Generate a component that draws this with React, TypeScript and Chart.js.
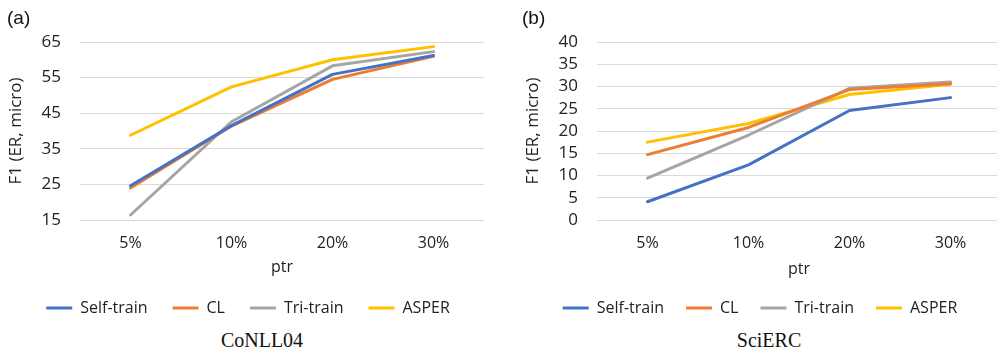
import React, { useEffect, useRef } from "react";
import { Chart, registerables } from "chart.js";

Chart.register(...registerables);

const categories = ["5%", "10%", "20%", "30%"];
const seriesNames = ["Self-train", "CL", "Tri-train", "ASPER"];
const seriesColors = ["#4472C4", "#ED7D31", "#A5A5A5", "#FFC000"];

// (a) CoNLL04
const conllSelfTrain = [24.6, 41.5, 55.9, 61.2];
const conllCL = [24.0, 41.4, 54.5, 61.0];
const conllTriTrain = [16.4, 42.6, 58.3, 62.3];
const conllASPER = [38.8, 52.4, 60.0, 63.7];

// (b) SciERC
const scierSelfTrain = [4.1, 12.4, 24.6, 27.5];
const scierCL = [14.7, 20.8, 29.3, 30.6];
const scierTriTrain = [9.4, 19.1, 29.6, 31.0];
const scierASPER = [17.5, 21.7, 28.2, 30.5];

const FONT = "'Open Sans', sans-serif";
const H = 326;

type PanelProps = {
  series: number[][];
  yMin: number;
  yMax: number;
  yStep: number;
  padLeft: number;
  yAxisWidth: number;
  yTitlePad: number;
  rightPad: number;
  width: number;
  legendPad: number;
};

function Panel({ series, yMin, yMax, yStep, padLeft, yAxisWidth, yTitlePad, rightPad, width, legendPad }: PanelProps) {
  const ref = useRef<HTMLCanvasElement | null>(null);
  useEffect(() => {
    if (!ref.current) return;
    const legendTop = H - (16 + legendPad + 10);
    const xAxisHeight = legendTop - 220;
    const ptrPad = Math.max(0, legendTop - 8 - 269);
    const chart = new Chart(ref.current, {
      type: "line",
      data: {
        labels: categories,
        datasets: series.map((d, i) => ({
          label: seriesNames[i],
          data: d,
          borderColor: seriesColors[i],
          backgroundColor: seriesColors[i],
          borderWidth: 3,
          pointRadius: 0,
          tension: 0,
          borderCapStyle: "round" as const,
          borderJoinStyle: "round" as const,
        })),
      },
      options: {
        animation: false,
        responsive: false,
        maintainAspectRatio: false,
        layout: { padding: { top: 42, right: rightPad, left: padLeft, bottom: 0 } },
        plugins: {
          tooltip: { enabled: false },
          legend: {
            position: "bottom",
            labels: {
              usePointStyle: true,
              pointStyle: "line",
              pointStyleWidth: 26,
              boxWidth: 26,
              boxHeight: 16,
              padding: legendPad,
              color: "#222",
              font: { family: FONT, size: 16 },
            },
          },
        },
        scales: {
          x: {
            type: "category",
            offset: true,
            grid: { display: false, drawTicks: false },
            border: { display: false },
            ticks: { color: "#222", padding: 14, font: { family: FONT, size: 16 } },
            title: {
              display: true,
              text: "ptr",
              color: "#222",
              font: { family: FONT, size: 16, lineHeight: 1 },
              padding: { top: 0, bottom: ptrPad },
            },
            afterFit: (s: any) => {
              s.height = xAxisHeight;
            },
          },
          y: {
            min: yMin,
            max: yMax,
            grid: { color: "#d9d9d9", lineWidth: 1, drawTicks: false },
            border: { display: false },
            ticks: {
              stepSize: yStep,
              autoSkip: false,
              color: "#222",
              padding: 19,
              font: { family: FONT, size: 17 },
            },
            title: {
              display: true,
              text: "F1 (ER, micro)",
              color: "#222",
              font: { family: FONT, size: 17 },
              padding: { top: yTitlePad, bottom: 0 },
            },
            afterFit: (s: any) => {
              s.width = yAxisWidth;
            },
          },
        },
      },
    });
    return () => chart.destroy();
  }, []);
  return <canvas ref={ref} width={width} height={H} style={{ display: "block", width, height: H }} />;
}

export default function App() {
  const label: React.CSSProperties = {
    position: "absolute",
    fontFamily: "'Liberation Sans', Arial, sans-serif",
    fontSize: 19,
    color: "#111",
    lineHeight: "22px",
  };
  const caption: React.CSSProperties = {
    position: "absolute",
    fontFamily: "'Liberation Serif', 'Times New Roman', serif",
    fontSize: 20,
    color: "#111",
    lineHeight: "24px",
    width: 200,
    textAlign: "center",
  };
  return (
    <div
      style={{
        position: "absolute",
        left: 0,
        top: 0,
        width: 997,
        height: 351,
        overflow: "hidden",
        background: "#fff",
      }}
    >
      <div style={{ position: "absolute", left: 0, top: 0, width: 497, height: H, overflow: "hidden" }}>
        <Panel
          series={[conllSelfTrain, conllCL, conllTriTrain, conllASPER]}
          yMin={15}
          yMax={65}
          yStep={10}
          padLeft={12}
          yAxisWidth={68}
          yTitlePad={-6}
          rightPad={13}
          width={497}
          legendPad={25}
        />
      </div>
      <div style={{ position: "absolute", left: 500, top: 0, width: 497, height: H, overflow: "hidden" }}>
        <Panel
          series={[scierSelfTrain, scierCL, scierTriTrain, scierASPER]}
          yMin={0}
          yMax={40}
          yStep={5}
          padLeft={19}
          yAxisWidth={78}
          yTitlePad={4}
          rightPad={19}
          width={520}
          legendPad={22}
        />
      </div>
      <div style={{ ...label, left: 7, top: 7 }}>(a)</div>
      <div style={{ ...label, left: 522, top: 7 }}>(b)</div>
      <div style={{ ...caption, left: 162, top: 328 }}>CoNLL04</div>
      <div style={{ ...caption, left: 669, top: 328 }}>SciERC</div>
    </div>
  );
}
